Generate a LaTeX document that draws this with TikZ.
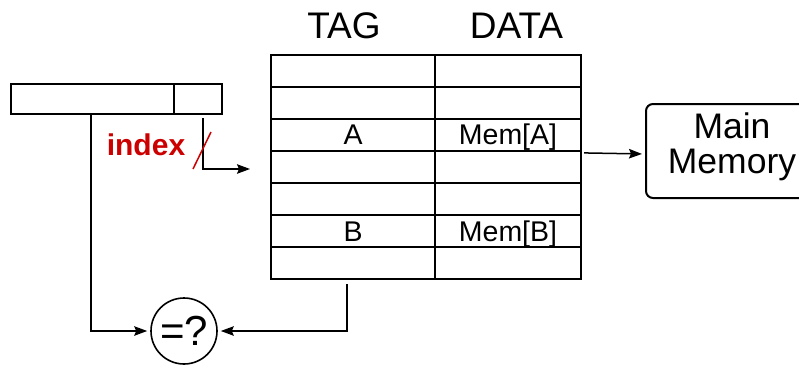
\documentclass[tikz,border=0pt]{standalone}
\usepackage{fontspec}
\setmainfont{Liberation Sans}
\usetikzlibrary{arrows.meta,calc}
\definecolor{idxred}{HTML}{CC0000}
\tikzset{
  cell/.style={draw, line width=2pt, inner sep=0pt, anchor=north west, minimum height=32.14pt,
    text height=20pt, text depth=0pt, font=\fontsize{28.5}{30}\selectfont},
  tagcell/.style={cell, minimum width=164pt},
  datacell/.style={cell, minimum width=146pt},
  addrbox/.style={draw, line width=2pt, inner sep=0pt, anchor=north west, minimum height=30pt},
  conn/.style={line width=1.5pt},
  arr/.style={conn, -{Stealth[length=13pt,width=9.5pt,inset=2pt]}},
  head/.style={anchor=base, inner sep=0pt, font=\fontsize{37}{40}\selectfont}
}
\begin{document}
\begin{tikzpicture}[x=1pt,y=-1pt]
\useasboundingbox (0,0) rectangle (799,364);
% address register
\node[addrbox, minimum width=163pt] (addrtag) at (10,83) {};
\node[addrbox, minimum width=48pt] (addridx) at (173,83) {};
% headers
\node[head] (htag) at (344,38) {TAG};
\node[head] (hdata) at (516.5,38) {DATA};
% table
\foreach \r/\tt/\dd in {1//,2//,3/A/{Mem[A]},4//,5//,6/B/{Mem[B]},7//}{
  \node[tagcell] (t\r) at (270,{53.5+(\r-1)*32.14}) {\tt};
  \node[datacell] (d\r) at (434,{53.5+(\r-1)*32.14}) {\dd};
}
% main memory
\node[draw, line width=2pt, rounded corners=7pt, anchor=north west, minimum width=172pt,
  minimum height=94pt, inner sep=0pt, align=center, text depth=15pt,
  font=\fontsize{35.5}{35}\selectfont] (mm) at (645,103) {Main\\Memory};
% comparator
\node[draw, circle, line width=1.6pt, minimum size=66pt, inner sep=0pt,
  font=\fontsize{42}{44}\selectfont] (cmp) at (184,331) {=?};
% index label
\node[anchor=base, inner sep=0pt, text=idxred, font=\bfseries\fontsize{30}{32}\selectfont] (idx) at (146,155) {index};
% connectors
\coordinate (idxend) at (250,169);
\draw[arr] ($(addridx.south west)+(30,3)$) |- (idxend);
\draw[idxred, line width=1.5pt] (193,169) -- (211,132);
\draw[arr, shorten >=3pt] ($(addrtag.south west)+(81,0)$) |- (cmp.west);
\draw[arr, shorten >=3pt] ($(t7.south west)+(77,4)$) |- (cmp.east);
\draw[arr, shorten >=3pt] ($(d4.north east)+(2,3)$) -- ($(mm.west)+(0,3)$);
\end{tikzpicture}
\end{document}
